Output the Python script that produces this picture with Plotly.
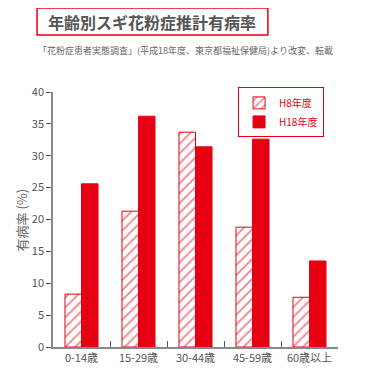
import plotly.graph_objects as go

categories = ["0-14歳", "15-29歳", "30-44歳", "45-59歳", "60歳以上"]
h8_values = [8.3, 21.3, 33.7, 18.8, 7.8]
h18_values = [25.6, 36.2, 31.4, 32.6, 13.5]
series_names = ["H8年度", "H18年度"]
y_ticks = [0, 5, 10, 15, 20, 25, 30, 35, 40]

RED = "#E60012"
GRAY = "#666666"
FONT = "Noto Sans CJK JP"

fig = go.Figure()
fig.add_trace(go.Bar(
    x=categories, y=h8_values, name=series_names[0],
    marker=dict(color="white", line=dict(color=RED, width=1),
                pattern=dict(shape="/", fgcolor=RED, bgcolor="white", size=7, solidity=0.25)),
))
fig.add_trace(go.Bar(
    x=categories, y=h18_values, name=series_names[1],
    marker=dict(color=RED, line=dict(color=RED, width=1)),
))

fig.update_layout(
    width=376, height=378,
    margin=dict(l=45, r=46, t=84, b=39, autoexpand=False),
    paper_bgcolor="white", plot_bgcolor="white",
    barmode="group", bargap=0.42, bargroupgap=0,
    font=dict(family=FONT, color="#555555", size=11),
    legend=dict(x=0.951, y=1.018, xanchor="right", yanchor="top",
                bordercolor=RED, borderwidth=1, bgcolor="white",
                font=dict(color=RED, size=10), itemwidth=30,
                tracegroupgap=0),
    showlegend=True,
)
fig.update_xaxes(
    showline=True, linecolor="#888888", linewidth=1.5, automargin=False,
    ticks="inside", tickson="boundaries", ticklen=6, tickcolor="#555555",
    tickfont=dict(size=11, color="#555555"),
)
fig.update_yaxes(
    range=[0, 40], tickvals=y_ticks, showgrid=False, zeroline=False, automargin=False,
    showline=True, linecolor="#888888", linewidth=1.5,
    ticks="outside", ticklen=5, tickcolor="#555555",
    tickfont=dict(size=11, color="#555555"),
)

fig.add_annotation(xref="paper", yref="paper", x=-0.109, y=0.5,
                   text="有病率 (%)", textangle=-90, showarrow=False,
                   font=dict(size=13, color=GRAY, family=FONT),
                   xanchor="center", yanchor="middle")

fig.add_shape(type="rect", xref="paper", yref="paper",
              x0=-0.056, x1=0.754, y0=1.224, y1=1.329,
              line=dict(color=RED, width=1.5), fillcolor="white")
fig.add_annotation(xref="paper", yref="paper", x=0.349, y=1.276,
                   text="<b>年齢別スギ花粉症推計有病率</b>", showarrow=False,
                   font=dict(size=16, color="#555555", family=FONT),
                   xanchor="center", yanchor="middle")
fig.add_annotation(xref="paper", yref="paper", x=-0.06, y=1.161,
                   text="「花粉症患者実態調査」(平成18年度、東京都福祉保健局)より改変、転載",
                   showarrow=False, font=dict(size=9, color="#666666", family=FONT),
                   xanchor="left", yanchor="middle")

fig.write_html("out.html")
